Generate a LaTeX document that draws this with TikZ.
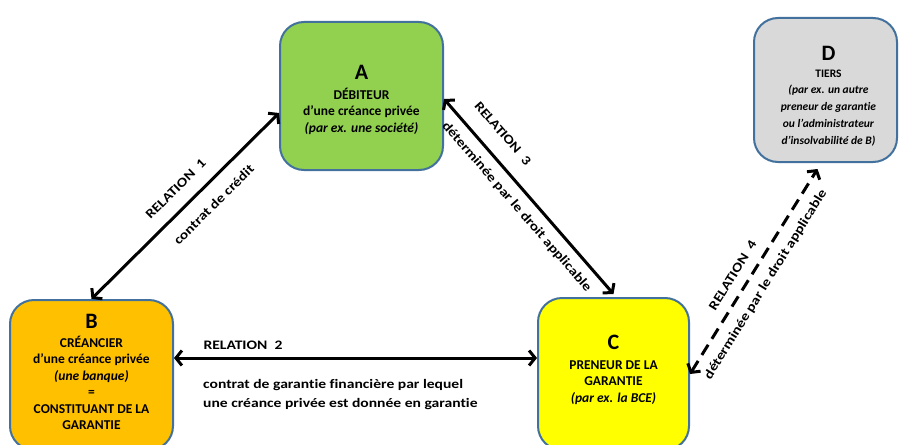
\documentclass[tikz,border=0pt]{standalone}
\usepackage{fontspec}
\setmainfont{Carlito}[Ligatures=NoCommon]
\newfontfamily\lblfont{Carlito}[Ligatures=NoCommon,FakeStretch=1.2]
\usetikzlibrary{arrows.meta}

\definecolor{frame}{HTML}{41719C}
\definecolor{fillA}{HTML}{92D050}
\definecolor{fillB}{HTML}{FFC000}
\definecolor{fillC}{HTML}{FFFF00}
\definecolor{fillD}{HTML}{D9D9D9}

\tikzset{
  party/.style={draw=frame, line width=2pt, rounded corners=24pt, inner sep=0pt},
  partytext/.style={align=center, inner sep=0pt, font=\bfseries\fontsize{13.5}{16.5}\selectfont},
  rel/.style={line width=3pt, {Straight Barb[length=6pt,width=15pt]}-{Straight Barb[length=6pt,width=15pt]}},
  lbl/.style={font=\lblfont\bfseries\fontsize{13}{19.5}\selectfont, inner sep=0pt},
}
\newcommand{\bigletter}[1]{{\fontsize{22}{24}\selectfont #1}}

\begin{document}
\begin{tikzpicture}[x=1pt,y=-1pt]
            \clip (0,0) rectangle (901,444);
            % the four parties
            \node [party,fill=fillA,minimum width=163pt,minimum height=148pt] (boxA) at (361.5,96) {};
            \node [partytext] (txtA) at ([yshift=-4pt]boxA.center)
              {\bigletter{A}\\[3pt]DÉBITEUR\\d'une créance privée\\\textit{(par ex. une société)}};
            \node [party,fill=fillD,minimum width=143pt,minimum height=144pt] (boxD) at (825.5,90) {};
            \node [partytext,font=\bfseries\fontsize{11.5}{16.7}\selectfont] (txtD) at ([xshift=3pt,yshift=-6pt]boxD.center)
              {\bigletter{D}\\TIERS\\\textit{(par ex. un autre}\\\textit{preneur de garantie}\\\textit{ou l'administrateur}\\\textit{d'insolvabilité de B)}};
            \node [party,fill=fillB,minimum width=163pt,minimum height=150pt] (boxB) at (91.5,375) {};
            \node [partytext] (txtB) at ([yshift=3pt]boxB.center)
              {\bigletter{B}\\[2pt]CRÉANCIER\\d'une créance privée\\\textit{(une banque)}\\=\\CONSTITUANT DE LA\\GARANTIE};
            \node [party,fill=fillC,minimum width=151pt,minimum height=152pt] (boxC) at (613.5,374) {};
            \node [partytext] (txtC) at ([yshift=4pt]boxC.center)
              {\bigletter{C}\\[3pt]PRENEUR DE LA\\GARANTIE\\\textit{(par ex. la BCE)}};
            % relations
            \draw [rel] (boxB.north) -- node [lbl,sloped,above=13pt,pos=0.52] {RELATION\ \ 1}
              node [lbl,sloped,below=13pt,pos=0.58] {contrat de crédit} ([yshift=-17pt]boxA.west);
            \draw [rel] ([yshift=17pt]boxB.east) -- node [lbl,above=7pt,pos=0.19] {RELATION\ \ 2}
              ([yshift=16pt]boxC.west);
            \node [lbl,align=left,anchor=north west] (txt2) at (203,379)
              {contrat de garantie financière par lequel\\une créance privée est donnée en garantie};
            \draw [rel] ([yshift=-3pt]boxA.east) -- node [lbl,sloped,above=16pt,pos=0.25] {RELATION\ \ 3}
              node [lbl,sloped,below=9pt,pos=0.5] {déterminée par le droit applicable} ([yshift=3pt]boxC.north);
            \draw [rel,dash pattern=on 12pt off 7pt] (boxC.east) -- node [lbl,sloped,above=10pt,pos=0.44] {RELATION\ \ 4}
              node [lbl,sloped,below=10pt,pos=0.48] {déterminée par le droit applicable} ([xshift=-8pt,yshift=-6pt]boxD.south);
        \end{tikzpicture}
\end{document}
